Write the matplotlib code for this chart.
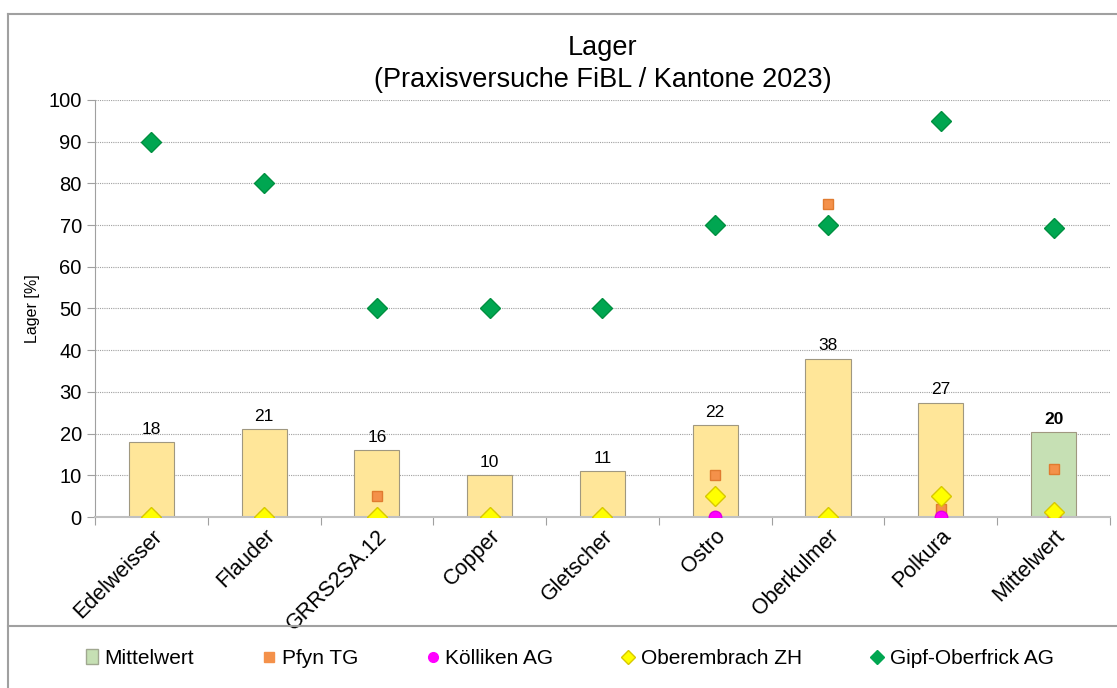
import matplotlib.pyplot as plt
from matplotlib.lines import Line2D
from matplotlib.patches import Patch
import numpy as np

plt.rcParams['font.family'] = ['Liberation Sans', 'DejaVu Sans']

# data
sorten = ['Edelweisser', 'Flauder', 'GRRS2SA.12', 'Copper', 'Gletscher',
          'Ostro', 'Oberkulmer', 'Polkura', 'Mittelwert']
mittel = [18, 21, 16, 10, 11, 22, 38, 27.4, 20.4]
labels_bar = ['18', '21', '16', '10', '11', '22', '38', '27', '20']
pfyn = [0, 0, 5, 0, 0, 10, 75, 2, 11.5]
koelliken = [np.nan, np.nan, np.nan, np.nan, np.nan, 0, np.nan, 0, 0]
oberembrach = [0, 0, 0, 0, 0, 5, 0, 5, 1.25]
gipf = [90, 80, 50, 50, 50, 70, 70, 95, 69.4]

x = np.arange(len(sorten))
bar_colors = ['#FFE699'] * (len(sorten) - 1) + ['#C6E0B4']

fig = plt.figure(figsize=(11.17, 6.88), dpi=100)
ax = fig.add_axes([0.085, 0.2485, 0.9087, 0.6062])

ax.bar(x, mittel, width=0.4, color=bar_colors, edgecolor='#A09880', linewidth=0.8, zorder=2)
for i, v in enumerate(mittel):
    ax.text(x[i], v + 1.3, labels_bar[i], ha='center', va='bottom', fontsize=12.5,
            fontweight='bold' if i == len(sorten) - 1 else 'normal')

ax.plot(x, pfyn, 's', color='#F4914A', mec='#E07B30', ms=7, zorder=3)
ax.plot(x, koelliken, 'o', color='#FF00FF', mec='#E000E0', ms=9, zorder=3)
ax.plot(x, oberembrach, 'D', color='#FFFF00', mec='#D8C800', ms=10, zorder=4)
ax.plot(x, gipf, 'D', color='#00A651', mec='#009040', ms=10, zorder=4)

ax.set_xlim(-0.5, len(sorten) - 0.5)
ax.set_ylim(0, 100)
ax.set_yticks(np.arange(0, 101, 10))
ax.tick_params(axis='y', labelsize=14.5, length=6, color='#A0A0A0', width=0.8)
ax.set_xticks(x)
ax.set_xticklabels(sorten, rotation=45, ha='right', rotation_mode='anchor', fontsize=15.5)
ax.tick_params(axis='x', length=0, pad=6)
ax.set_xticks(np.arange(-0.5, len(sorten), 1), minor=True)
ax.tick_params(axis='x', which='minor', length=6, color='#A0A0A0', width=0.8)
ax.yaxis.grid(True, color='#A0A0A0', linestyle=(0, (1, 1)), linewidth=0.8)
ax.set_axisbelow(True)
for s in ['top', 'right']:
    ax.spines[s].set_visible(False)
ax.spines['left'].set_color('#A0A0A0')
ax.spines['bottom'].set_color('#C0C0C0')
ax.spines['bottom'].set_linewidth(1.5)
ax.set_ylabel('Lager [%]', fontsize=11.5, labelpad=6)

ax.set_title('Lager\n(Praxisversuche FiBL / Kantone 2023)', fontsize=19.5, pad=9, linespacing=1.3)

# outer frame and legend divider
fig.add_artist(Line2D([0.0072, 1.0], [0.9797, 0.9797], color='#A0A0A0', lw=1.5))
fig.add_artist(Line2D([0.0072, 0.0072], [0.0, 0.9797], color='#A0A0A0', lw=1.5))
fig.add_artist(Line2D([0.0072, 1.0], [0.0901, 0.0901], color='#A0A0A0', lw=1.5))

handles = [
    Patch(facecolor='#C6E0B4', edgecolor='#A0A890'),
    Line2D([], [], marker='s', ls='', color='#F4914A', ms=7),
    Line2D([], [], marker='o', ls='', color='#FF00FF', ms=7),
    Line2D([], [], marker='D', ls='', color='#FFFF00', mec='#D8C800', ms=7),
    Line2D([], [], marker='D', ls='', color='#00A651', ms=7),
]
fig.legend(handles, ['Mittelwert', 'Pfyn TG', 'Kölliken AG', 'Oberembrach ZH', 'Gipf-Oberfrick AG'],
           loc='center', bbox_to_anchor=(0.51, 0.043), ncol=5, frameon=False, fontsize=15,
           handlelength=0.6, handletextpad=0.3, columnspacing=3.3)

fig.savefig('out.png', dpi=100)
